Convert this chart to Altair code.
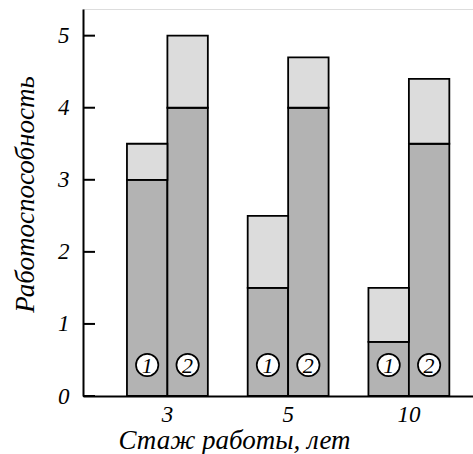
import altair as alt
import pandas as pd

groups = ["3", "5", "10"]
series = ["1", "2"]
base_vals = [3.0, 4.0, 1.5, 4.0, 0.75, 3.5]
total_vals = [3.5, 5.0, 2.5, 4.7, 1.5, 4.4]
y_ticks = [0, 1, 2, 3, 4, 5]
marker_level = 0.43

rows = []
i = 0
for g in groups:
    for s in series:
        rows.append({"group": g, "series": s, "base": base_vals[i], "total": total_vals[i]})
        i += 1
df = pd.DataFrame(rows)
ticks_df = pd.DataFrame({"v": y_ticks})

FONT = "Liberation Serif"

x_enc = alt.X(
    "group:N", sort=groups,
    scale=alt.Scale(paddingInner=0.33, paddingOuter=0.28, align=0.65),
    axis=alt.Axis(
        title="Стаж работы, лет", labelAngle=0, ticks=False, grid=False,
        domainColor="black", domainWidth=2,
        labelFont=FONT, labelFontStyle="italic", labelFontSize=23, labelColor="black",
        labelPadding=7,
        titleFont=FONT, titleFontStyle="italic", titleFontWeight="normal",
        titleFontSize=27, titleColor="black", titleX=151, titleY=52,
        titleBaseline="alphabetic",
    ),
)
xo = alt.XOffset("series:N", sort=series, scale=alt.Scale(paddingInner=0, paddingOuter=0))
y_scale = alt.Scale(domain=[0, 5.37], nice=False, zero=True)
y_axis = alt.Axis(
    title="Работоспособность", values=y_ticks, format="d", ticks=False, grid=False,
    domainColor="black", domainWidth=2,
    labelFont=FONT, labelFontStyle="italic", labelFontSize=23, labelColor="black",
    labelPadding=14,
    titleFont=FONT, titleFontStyle="italic", titleFontWeight="normal",
    titleFontSize=27, titleColor="black", titleX=-50, titleY=185,
    titleBaseline="alphabetic",
)

base = alt.Chart(df).encode(x=x_enc, xOffset=xo)

bottom = base.mark_bar(fill="#b3b3b3", stroke="black", strokeWidth=1.8).encode(
    y=alt.Y("base:Q", scale=y_scale, axis=y_axis),
    y2=alt.datum(0),
)
top = base.mark_bar(fill="#dcdcdc", stroke="black", strokeWidth=1.8).encode(
    y=alt.Y("total:Q"),
    y2=alt.Y2("base:Q"),
)
circles = base.mark_point(shape="circle", size=500, filled=False, fill="white",
                          fillOpacity=1, stroke="black", strokeWidth=1.7, opacity=1).encode(
    y=alt.datum(marker_level),
)
labels = base.mark_text(font=FONT, fontStyle="italic", fontSize=22, color="black",
                        baseline="middle", dy=1).encode(
    y=alt.datum(marker_level),
    text="series:N",
)
tick_rules = alt.Chart(ticks_df).mark_rule(color="black", strokeWidth=2).encode(
    y=alt.Y("v:Q"),
    x=alt.value(0),
    x2=alt.value(12),
)

chart = alt.layer(bottom, top, circles, labels, tick_rules).properties(
    width=390, height=387,
    autosize=alt.AutoSizeParams(type="none"),
    padding={"left": 83, "top": 9, "right": 0, "bottom": 58},
).configure_view(stroke=None).configure(background="white")

chart.save("out.html", embed_options={"renderer": "svg", "actions": False})
